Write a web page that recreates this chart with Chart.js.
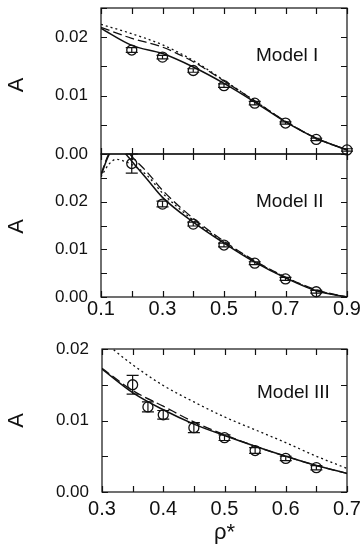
<!DOCTYPE html>
<html>
<head>
<meta charset="utf-8">
<script src="https://cdn.jsdelivr.net/npm/chart.js@4.4.0/dist/chart.umd.min.js"></script>
<style>
    html, body { margin: 0; padding: 0; background: #fff; width: 362px; height: 550px; overflow: hidden; position: relative; }
    canvas { position: absolute; }
</style>
</head>
<body>
<canvas id="chartModelOne"></canvas>
<canvas id="chartModelTwo"></canvas>
<canvas id="chartModelThree"></canvas>
<script>
// Model I
const rhoOne = [0.2, 0.3, 0.4, 0.5, 0.6, 0.7, 0.8, 0.9];
const simOne = [0.0178, 0.0166, 0.0143, 0.0117, 0.0087, 0.0053, 0.0025, 0.0007];
const errOne = [0.0004, 0.0003, 0.0003, 0.0003, 0.0003, 0.0002, 0.0002, 0.0002];
const curveRhoOne = [0.1, 0.2, 0.3, 0.4, 0.5, 0.6, 0.7, 0.8, 0.9];
const solidOne = [0.0215, 0.0186, 0.0172, 0.0149, 0.0121, 0.0089, 0.0055, 0.0027, 0.0007];
const dashedOne = [0.0217, 0.0198, 0.0183, 0.0158, 0.0125, 0.0091, 0.0056, 0.0027, 0.0007];
const dottedOne = [0.0222, 0.0206, 0.0187, 0.0160, 0.0126, 0.0091, 0.0056, 0.0027, 0.0007];

// Model II
const rhoTwo = [0.2, 0.3, 0.4, 0.5, 0.6, 0.7, 0.8];
const simTwo = [0.0280, 0.0195, 0.0153, 0.0109, 0.0071, 0.0038, 0.0011];
const errTwo = [0.0020, 0.0006, 0.0004, 0.0004, 0.0003, 0.0003, 0.0003];
const curveRhoTwo = [0.1, 0.125, 0.15, 0.175, 0.2, 0.25, 0.3, 0.4, 0.5, 0.6, 0.7, 0.8, 0.9];
const solidTwo = [0.0255, 0.0297, 0.0318, 0.0304, 0.0285, 0.0247, 0.0209, 0.0157, 0.0113, 0.0073, 0.0040, 0.0013, 0.0000];
const dashedTwo = [0.0258, 0.0300, 0.0322, 0.0314, 0.0295, 0.0262, 0.0224, 0.0165, 0.0117, 0.0076, 0.0042, 0.0015, 0.0000];
const dottedTwo = [0.0252, 0.0278, 0.0289, 0.0285, 0.0278, 0.0255, 0.0218, 0.0161, 0.0115, 0.0075, 0.0041, 0.0014, 0.0000];

// Model III
const rhoThree = [0.35, 0.375, 0.4, 0.45, 0.5, 0.55, 0.6, 0.65];
const simThree = [0.0150, 0.0119, 0.0108, 0.0090, 0.0076, 0.0058, 0.0047, 0.0034];
const errThree = [0.0013, 0.0007, 0.0006, 0.0007, 0.0004, 0.0004, 0.0003, 0.0003];
const curveRhoThree = [0.3, 0.35, 0.4, 0.45, 0.5, 0.55, 0.6, 0.65, 0.7];
const solidThree = [0.0172, 0.0139, 0.0115, 0.0095, 0.0079, 0.0064, 0.0050, 0.0037, 0.0026];
const dashedThree = [0.0173, 0.0142, 0.0120, 0.0098, 0.0080, 0.0064, 0.0050, 0.0037, 0.0026];
const dottedThree = [0.0212, 0.0178, 0.0149, 0.0126, 0.0105, 0.0087, 0.0069, 0.0050, 0.0033];

// tick labels
const xLabelsWide = [0.1, 0.3, 0.5, 0.7, 0.9];
const xLabelsNarrow = [0.3, 0.4, 0.5, 0.6, 0.7];
const yLabels = [0, 0.01, 0.02];

const PAD = 40;
const INK = '#111';
const SANS = "'Liberation Sans', Arial, sans-serif";

const pairs = (xs, ys) => xs.map((x, i) => ({x: x, y: ys[i]}));

// frame + inward ticks on all four sides, model name, rotated "A"
const frameTicks = {
    id: 'frameTicks',
    afterDraw(chart, args, opts) {
        const {ctx, chartArea: a, scales: {x, y}} = chart;
        ctx.save();
        ctx.strokeStyle = INK;
        ctx.lineWidth = 1.2;
        ctx.strokeRect(a.left, a.top, a.right - a.left, a.bottom - a.top);
        ctx.beginPath();
        for (let v = x.min; v <= x.max + 1e-9; v += opts.xStep) {
            const px = Math.round(x.getPixelForValue(v)) + 0.5;
            ctx.moveTo(px, a.bottom); ctx.lineTo(px, a.bottom - 6);
            ctx.moveTo(px, a.top); ctx.lineTo(px, a.top + 6);
        }
        for (let v = y.min; v <= y.max + 1e-9; v += opts.yStep) {
            const py = Math.round(y.getPixelForValue(v)) + 0.5;
            ctx.moveTo(a.left, py); ctx.lineTo(a.left + 6, py);
            ctx.moveTo(a.right, py); ctx.lineTo(a.right - 6, py);
        }
        ctx.stroke();
        ctx.fillStyle = INK;
        ctx.font = '19px ' + SANS;
        ctx.textBaseline = 'middle';
        ctx.fillText(opts.label, a.left + 155, a.top + opts.labelDy);

        // y axis name, turned a quarter left
        ctx.translate(x.left - chart.scales.y.width + 17, (a.top + a.bottom) / 2 + opts.nameDy);
        ctx.rotate(-Math.PI / 2);
        ctx.textAlign = 'center';
        ctx.font = '22px ' + SANS;
        ctx.fillText('A', 0, 0);
        ctx.restore();
    }
};

// vertical error bars with caps
const errorBars = {
    id: 'errorBars',
    afterDatasetsDraw(chart) {
        const {ctx, scales: {x, y}} = chart;
        ctx.save();
        ctx.strokeStyle = INK;
        ctx.lineWidth = 1.2;
        chart.data.datasets.forEach(ds => {
            if (!ds.errors) return;
            ds.data.forEach((p, i) => {
                const px = x.getPixelForValue(p.x);
                const top = y.getPixelForValue(p.y + ds.errors[i]);
                const bot = y.getPixelForValue(p.y - ds.errors[i]);
                ctx.beginPath();
                ctx.moveTo(px, top); ctx.lineTo(px, bot);
                ctx.moveTo(px - 6, top); ctx.lineTo(px + 6, top);
                ctx.moveTo(px - 6, bot); ctx.lineTo(px + 6, bot);
                ctx.stroke();
            });
        });
        ctx.restore();
    }
};

function curve(xs, ys, dash, width) {
    return {
        data: pairs(xs, ys),
        borderColor: INK,
        borderWidth: width,
        borderDash: dash,
        pointRadius: 0,
        fill: false,
        cubicInterpolationMode: 'monotone',
    };
}

function makePanel(id, p) {
    const canvas = document.getElementById(id);
    const areaH = p.bottom - p.top;
    canvas.width = 362 + 2 * PAD;
    canvas.height = PAD + areaH + p.xAxisH + PAD;
    canvas.style.left = -PAD + 'px';
    canvas.style.top = (p.top - PAD) + 'px';

    const config = {
        type: 'line',
        data: {
            datasets: [
                curve(p.curveX, p.dotted, [2, 3], 1.3),
                curve(p.curveX, p.dashed, [9, 4], 1.3),
                curve(p.curveX, p.solid, [], 1.5),
                {
                    data: pairs(p.rho, p.sim),
                    errors: p.err,
                    showLine: false,
                    pointStyle: 'circle',
                    pointRadius: 5,
                    pointBorderWidth: 1.3,
                    pointBorderColor: INK,
                    pointBackgroundColor: 'rgba(0,0,0,0)',
                    clip: false,
                },
            ]
        },
        options: {
            responsive: false,
            devicePixelRatio: 1,
            animation: false,
            layout: {
                padding: {left: PAD, right: PAD + 362 - 347, top: PAD, bottom: PAD}
            },
            scales: {
                x: {
                    type: 'linear',
                    min: p.xMin,
                    max: p.xMax,
                    display: p.xLabels !== null,
                    afterBuildTicks: s => { if (p.xLabels) s.ticks = p.xLabels.map(v => ({value: v})); },
                    afterFit: s => { s.height = p.xAxisH; },
                    grid: {display: false, drawTicks: false},
                    border: {display: false},
                    ticks: {
                        autoSkip: false,
                        maxRotation: 0,
                        padding: p.xPad,
                        color: INK,
                        font: {family: SANS, size: 20},
                        callback: v => v.toFixed(1)
                    },
                    title: {
                        display: !!p.xTitle,
                        text: p.xTitle || '',
                        color: INK,
                        font: {family: SANS, size: 22},
                        padding: {top: 0, bottom: 6}
                    }
                },
                y: {
                    min: 0,
                    max: p.yMax,
                    afterBuildTicks: s => { s.ticks = yLabels.map(v => ({value: v})); },
                    afterFit: s => { s.width = p.left; },
                    grid: {display: false, drawTicks: false},
                    border: {display: false},
                    ticks: {
                        autoSkip: false,
                        padding: 13,
                        color: INK,
                        font: {family: SANS, size: 17},
                        callback: v => v.toFixed(2)
                    }
                }
            },
            plugins: {
                legend: {display: false},
                tooltip: {enabled: false},
                frameTicks: {xStep: p.xStep, yStep: 0.005, label: p.label, labelDy: p.labelDy, nameDy: p.nameDy}
            }
        },
        plugins: [frameTicks, errorBars]
    };
    return new Chart(canvas, config);
}

var chartOne = makePanel('chartModelOne', {
    top: 8, bottom: 154, left: 101, xAxisH: 0, xPad: 0,
    xMin: 0.1, xMax: 0.9, xStep: 0.1, yMax: 0.025, xLabels: null,
    rho: rhoOne, sim: simOne, err: errOne,
    curveX: curveRhoOne, solid: solidOne, dashed: dashedOne, dotted: dottedOne,
    label: 'Model I', labelDy: 48, nameDy: 4
});

var chartTwo = makePanel('chartModelTwo', {
    top: 154, bottom: 297, left: 101, xAxisH: 40, xPad: 0,
    xMin: 0.1, xMax: 0.9, xStep: 0.1, yMax: 0.03, xLabels: xLabelsWide,
    rho: rhoTwo, sim: simTwo, err: errTwo,
    curveX: curveRhoTwo, solid: solidTwo, dashed: dashedTwo, dotted: dottedTwo,
    label: 'Model II', labelDy: 48, nameDy: 1
});

var chartThree = makePanel('chartModelThree', {
    top: 349, bottom: 492, left: 102, xAxisH: 60, xPad: 5,
    xMin: 0.3, xMax: 0.7, xStep: 0.05, yMax: 0.02, xLabels: xLabelsNarrow,
    xTitle: 'ρ*',
    rho: rhoThree, sim: simThree, err: errThree,
    curveX: curveRhoThree, solid: solidThree, dashed: dashedThree, dotted: dottedThree,
    label: 'Model III', labelDy: 44, nameDy: 0
});
</script>
</body>
</html>
